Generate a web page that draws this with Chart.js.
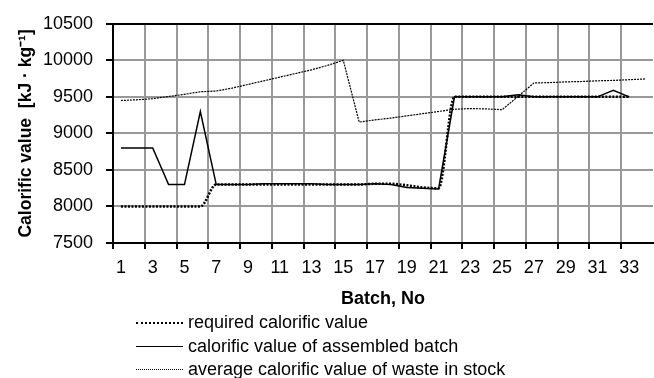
<!DOCTYPE html>
<html>
<head>
<meta charset="utf-8">
<script src="https://cdn.jsdelivr.net/npm/chart.js@4"></script>
<style>
  body { margin: 0; background: #fff; }
  #wrap { position: relative; width: 654px; height: 378px; }
  #legend { position: absolute; left: 136px; top: 311px; font: 18px "Liberation Sans", Arial, sans-serif; color: #000; }
  .row { height: 23.5px; display: flex; align-items: center; }
  .sample { width: 47px; margin-right: 5px; }
  .req { border-top: 2.5px dotted #000; }
  .asm { border-top: 1.5px solid #000; }
  .avg { border-top: 1px dotted #000; }
</style>
</head>
<body>
<div id="wrap">
  <canvas id="chart" width="654" height="378"></canvas>
  <div id="legend">
    <div class="row"><div class="sample req"></div>required calorific value</div>
    <div class="row"><div class="sample asm"></div>calorific value of assembled batch</div>
    <div class="row"><div class="sample avg"></div>average calorific value of waste in stock</div>
  </div>
</div>
<script>
// batch numbers on the x axis
const batches = ['1','2','3','4','5','6','7','8','9','10','11','12','13','14','15','16','17',
  '18','19','20','21','22','23','24','25','26','27','28','29','30','31','32','33','34'];

// values, kJ/kg
const requiredValue = [8000, 8000, 8000, 8000, 8000, 8000, 8300, 8300, 8300, 8300, 8300, 8300,
  8300, 8300, 8300, 8300, 8310, 8310, 8290, 8260, 8250, 9500, 9500, 9500, 9500, 9500, 9500,
  9500, 9500, 9500, 9500, 9500, 9500, null];
const assembledValue = [8800, 8800, 8800, 8300, 8300, 9300, 8300, 8300, 8300, 8310, 8310, 8310,
  8310, 8300, 8300, 8300, 8310, 8300, 8260, 8250, 8240, 9500, 9500, 9500, 9500, 9530, 9500,
  9500, 9500, 9500, 9500, 9590, 9500, null];
const stockAverage = [9450, 9460, 9475, 9505, 9535, 9570, 9580, 9620, 9670, 9720, 9770, 9820,
  9870, 9930, 10000, 9155, 9185, 9210, 9240, 9270, 9300, 9330, 9340, 9335, 9325, 9505, 9690,
  9695, 9705, 9710, 9720, 9725, 9735, 9745];

const yMin = 7500;
const yMax = 10500;
const yStep = 500;

const font = '"Liberation Sans", Arial, sans-serif';

new Chart(document.getElementById('chart'), {
  type: 'line',
  data: {
    labels: batches,
    datasets: [
      {
        label: 'required calorific value',
        data: requiredValue,
        borderColor: '#000',
        borderWidth: 2.5,
        borderDash: [2, 1.5],
        cubicInterpolationMode: 'monotone',
        pointRadius: 0
      },
      {
        label: 'calorific value of assembled batch',
        data: assembledValue,
        borderColor: '#000',
        borderWidth: 1.5,
        pointRadius: 0
      },
      {
        label: 'average calorific value of waste in stock',
        data: stockAverage,
        borderColor: '#000',
        borderWidth: 1.2,
        borderDash: [2, 1],
        pointRadius: 0
      }
    ]
  },
  options: {
    responsive: false,
    animation: false,
    layout: { padding: { top: 14, right: 1, bottom: 65, left: 0 } },
    plugins: {
      legend: { display: false },
      tooltip: { enabled: false }
    },
    scales: {
      x: {
        type: 'category',
        offset: true,
        grid: {
          offset: true,
          lineWidth: 2,
          tickLength: 6,
          color: ctx => (ctx.index % 2 === 0 && ctx.index < batches.length) ? '#999' : 'rgba(0,0,0,0)',
          tickColor: ctx => (ctx.index % 2 === 0 && ctx.index < batches.length) ? '#000' : 'rgba(0,0,0,0)'
        },
        border: { color: '#000', width: 2 },
        ticks: {
          autoSkip: false,
          maxRotation: 0,
          padding: 8,
          color: '#000',
          font: { family: font, size: 18 },
          callback: (v, i) => i % 2 === 0 ? batches[i] : ''
        },
        title: {
          display: true,
          text: 'Batch, No',
          color: '#000',
          padding: { top: 4, bottom: 3 },
          font: { family: font, size: 18, weight: 'bold' }
        },
        afterFit: scale => { scale.height = 70; }
      },
      y: {
        min: yMin,
        max: yMax,
        grid: {
          lineWidth: 2,
          tickLength: 7,
          color: ctx => ctx.tick && ctx.tick.value === yMax ? '#000' : '#999',
          tickColor: '#000'
        },
        border: { color: '#000', width: 2 },
        ticks: {
          stepSize: yStep,
          padding: 13,
          color: '#000',
          font: { family: font, size: 18 },
          callback: v => String(v)
        },
        title: {
          display: true,
          text: 'Calorific value  [kJ · kg⁻¹]',
          color: '#000',
          padding: { top: 16, bottom: 0 },
          font: { family: font, size: 17.5, weight: 'bold' }
        },
        afterFit: scale => { scale.width = 113; }
      }
    }
  }
});
</script>
</body>
</html>
